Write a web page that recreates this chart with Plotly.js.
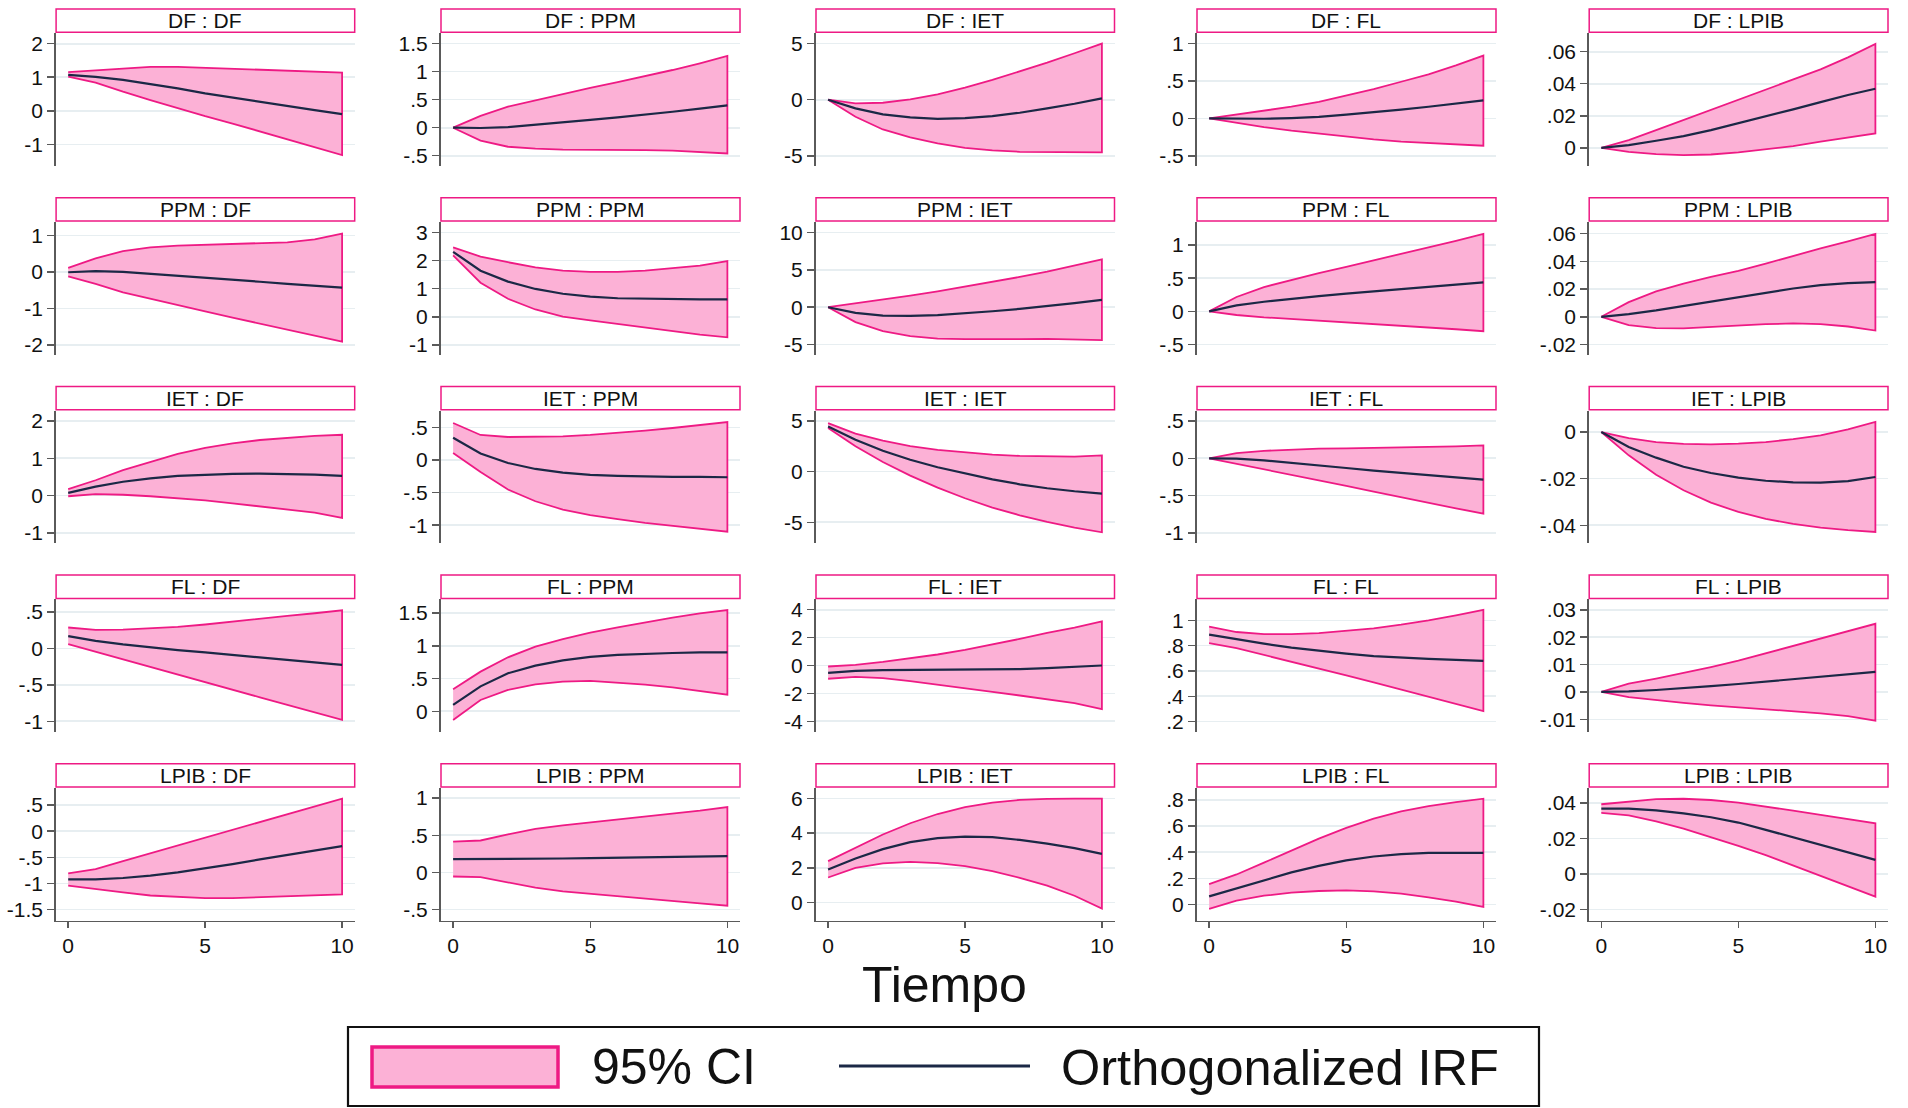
<!DOCTYPE html>
<html><head><meta charset="utf-8">
<script src="https://cdn.plot.ly/plotly-3.0.1.min.js"></script>
<style>html,body{margin:0;padding:0;background:#fff}#chart{width:1908px;height:1108px}</style>
</head><body><div id="chart"></div>
<script>
// ---------------- DATA ----------------
const steps = [0,1,2,3,4,5,6,7,8,9,10];
const impulses = ['DF','PPM','IET','FL','LPIB'];
const responses = ['DF','PPM','IET','FL','LPIB'];
const legendLabels = ['95% CI', 'Orthogonalized IRF'];
const xTitle = 'Tiempo';
const xTicks = [0,5,10];

// impulse DF
const lo_DF_DF = [1.02,0.84,0.57,0.32,0.07,-0.16,-0.38,-0.61,-0.84,-1.08,-1.32];
const irf_DF_DF = [1.07,1.01,0.92,0.80,0.67,0.52,0.39,0.26,0.14,0.02,-0.10];
const hi_DF_DF = [1.15,1.21,1.27,1.31,1.31,1.28,1.25,1.22,1.19,1.17,1.14];
const lo_DF_PPM = [0,-0.23,-0.34,-0.375,-0.39,-0.40,-0.40,-0.40,-0.41,-0.43,-0.46];
const irf_DF_PPM = [0,-0.005,0.01,0.05,0.09,0.14,0.185,0.23,0.285,0.34,0.40];
const hi_DF_PPM = [0,0.21,0.375,0.49,0.60,0.71,0.815,0.92,1.03,1.15,1.28];
const lo_DF_IET = [0,-1.52,-2.65,-3.36,-3.9,-4.29,-4.52,-4.64,-4.70,-4.70,-4.70];
const irf_DF_IET = [0,-0.77,-1.31,-1.58,-1.70,-1.64,-1.46,-1.16,-0.77,-0.36,0.12];
const hi_DF_IET = [0,-0.33,-0.27,0.03,0.48,1.07,1.76,2.5,3.3,4.14,5.0];
const lo_DF_FL = [0,-0.06,-0.116,-0.165,-0.21,-0.245,-0.28,-0.31,-0.33,-0.35,-0.366];
const irf_DF_FL = [0,-0.004,-0.005,0.004,0.02,0.05,0.08,0.116,0.156,0.196,0.24];
const hi_DF_FL = [0,0.05,0.098,0.156,0.22,0.30,0.39,0.49,0.59,0.71,0.84];
const lo_DF_LPIB = [0,-0.0025,-0.004,-0.0046,-0.0042,-0.0029,-0.001,0.001,0.0038,0.0065,0.009];
const irf_DF_LPIB = [0,0.0017,0.0044,0.0073,0.011,0.0152,0.0194,0.024,0.0285,0.033,0.0369];
const hi_DF_LPIB = [0,0.0048,0.011,0.0173,0.0235,0.0298,0.036,0.0423,0.049,0.0565,0.0648];

// impulse PPM
const lo_PPM_DF = [-0.12,-0.33,-0.56,-0.74,-0.91,-1.08,-1.25,-1.42,-1.58,-1.75,-1.91];
const irf_PPM_DF = [-0.01,0.02,0,-0.05,-0.10,-0.16,-0.22,-0.27,-0.33,-0.37,-0.43];
const hi_PPM_DF = [0.11,0.37,0.57,0.67,0.72,0.74,0.75,0.77,0.81,0.89,1.05];
const lo_PPM_PPM = [2.18,1.21,0.64,0.26,0.01,-0.13,-0.27,-0.39,-0.51,-0.63,-0.73];
const irf_PPM_PPM = [2.31,1.64,1.25,0.99,0.82,0.72,0.66,0.64,0.63,0.62,0.62];
const hi_PPM_PPM = [2.47,2.14,1.94,1.76,1.64,1.60,1.60,1.64,1.73,1.82,1.98];
const lo_PPM_IET = [0,-2.0,-3.21,-3.88,-4.2,-4.29,-4.33,-4.29,-4.24,-4.29,-4.42];
const irf_PPM_IET = [0,-0.76,-1.12,-1.16,-1.07,-0.85,-0.54,-0.22,0.13,0.54,0.98];
const hi_PPM_IET = [0,0.49,1.03,1.56,2.14,2.77,3.39,4.06,4.78,5.58,6.43];
const lo_PPM_FL = [0,-0.055,-0.09,-0.12,-0.145,-0.17,-0.195,-0.22,-0.245,-0.27,-0.30];
const irf_PPM_FL = [0,0.09,0.145,0.19,0.23,0.266,0.30,0.336,0.37,0.40,0.436];
const hi_PPM_FL = [0,0.216,0.366,0.476,0.576,0.67,0.767,0.862,0.962,1.063,1.168];
const lo_PPM_LPIB = [0,-0.006,-0.0082,-0.0084,-0.0077,-0.0065,-0.0053,-0.0048,-0.0053,-0.007,-0.0099];
const irf_PPM_LPIB = [0,0.0019,0.0046,0.0077,0.011,0.0144,0.0175,0.0204,0.0228,0.0243,0.025];
const hi_PPM_LPIB = [0,0.0106,0.0183,0.024,0.0288,0.0332,0.0384,0.044,0.0493,0.0545,0.0598];

// impulse IET
const lo_IET_DF = [-0.02,0.04,0.02,-0.02,-0.07,-0.13,-0.21,-0.29,-0.37,-0.46,-0.60];
const irf_IET_DF = [0.07,0.24,0.37,0.46,0.53,0.56,0.58,0.59,0.58,0.56,0.53];
const hi_IET_DF = [0.17,0.41,0.68,0.91,1.12,1.28,1.40,1.49,1.55,1.60,1.63];
const lo_IET_PPM = [0.107,-0.184,-0.454,-0.633,-0.76,-0.847,-0.908,-0.964,-1.01,-1.056,-1.10];
const irf_IET_PPM = [0.34,0.10,-0.046,-0.138,-0.194,-0.23,-0.245,-0.255,-0.26,-0.26,-0.265];
const hi_IET_PPM = [0.566,0.383,0.352,0.352,0.362,0.383,0.413,0.449,0.49,0.53,0.58];
const lo_IET_IET = [4.31,2.5,0.95,-0.39,-1.58,-2.63,-3.55,-4.31,-4.97,-5.53,-5.99];
const irf_IET_IET = [4.47,3.16,2.07,1.18,0.43,-0.2,-0.76,-1.25,-1.64,-1.94,-2.17];
const hi_IET_IET = [4.8,3.75,3.06,2.53,2.14,1.88,1.68,1.55,1.48,1.48,1.61];
const lo_IET_FL = [0,-0.07,-0.147,-0.219,-0.295,-0.37,-0.446,-0.522,-0.598,-0.67,-0.741];
const irf_IET_FL = [0,-0.004,-0.027,-0.058,-0.094,-0.13,-0.165,-0.196,-0.228,-0.254,-0.286];
const hi_IET_FL = [0,0.07,0.10,0.12,0.13,0.134,0.138,0.143,0.152,0.16,0.174];
const lo_IET_LPIB = [0,-0.01,-0.0183,-0.025,-0.0303,-0.0343,-0.0373,-0.0394,-0.041,-0.0421,-0.0429];
const irf_IET_LPIB = [0,-0.0064,-0.011,-0.0149,-0.0176,-0.0196,-0.0209,-0.0216,-0.0217,-0.0211,-0.0193];
const hi_IET_LPIB = [0,-0.0026,-0.0043,-0.0051,-0.0053,-0.005,-0.0043,-0.0031,-0.0014,0.0011,0.0043];

// impulse FL
const lo_FL_DF = [0.059,-0.041,-0.146,-0.251,-0.356,-0.461,-0.566,-0.671,-0.776,-0.881,-0.98];
const irf_FL_DF = [0.169,0.105,0.055,0.014,-0.023,-0.055,-0.087,-0.123,-0.155,-0.187,-0.224];
const hi_FL_DF = [0.288,0.256,0.26,0.274,0.297,0.329,0.365,0.406,0.447,0.484,0.525];
const lo_FL_PPM = [-0.132,0.173,0.325,0.41,0.452,0.463,0.44,0.407,0.366,0.315,0.254];
const irf_FL_PPM = [0.097,0.38,0.58,0.696,0.778,0.829,0.86,0.88,0.89,0.9,0.9];
const hi_FL_PPM = [0.335,0.605,0.824,0.986,1.103,1.2,1.28,1.357,1.43,1.495,1.545];
const lo_FL_IET = [-0.95,-0.81,-0.91,-1.12,-1.36,-1.62,-1.89,-2.15,-2.41,-2.70,-3.13];
const irf_FL_IET = [-0.53,-0.38,-0.33,-0.31,-0.31,-0.31,-0.29,-0.26,-0.19,-0.12,0.0];
const hi_FL_IET = [-0.07,0.05,0.26,0.5,0.79,1.12,1.5,1.91,2.34,2.72,3.17];
const lo_FL_FL = [0.821,0.78,0.73,0.676,0.62,0.566,0.51,0.453,0.397,0.34,0.282];
const irf_FL_FL = [0.887,0.85,0.816,0.784,0.758,0.737,0.718,0.705,0.695,0.687,0.679];
const hi_FL_FL = [0.95,0.908,0.892,0.892,0.9,0.916,0.937,0.966,1.0,1.04,1.084];
const lo_FL_LPIB = [0,-0.0019,-0.003,-0.004,-0.0049,-0.0056,-0.0063,-0.0071,-0.0078,-0.0088,-0.0105];
const irf_FL_LPIB = [0,0.0002,0.0007,0.0013,0.0021,0.0029,0.0038,0.0047,0.0056,0.0064,0.0073];
const hi_FL_LPIB = [0,0.003,0.0049,0.0069,0.0091,0.0114,0.0141,0.0168,0.0195,0.0222,0.0249];

// impulse LPIB
const lo_LPIB_DF = [-1.04,-1.10,-1.17,-1.23,-1.26,-1.28,-1.28,-1.26,-1.24,-1.23,-1.21];
const irf_LPIB_DF = [-0.92,-0.92,-0.895,-0.851,-0.787,-0.711,-0.629,-0.54,-0.457,-0.375,-0.286];
const hi_LPIB_DF = [-0.806,-0.724,-0.571,-0.422,-0.273,-0.124,0.025,0.175,0.324,0.473,0.622];
const lo_LPIB_PPM = [-0.054,-0.063,-0.138,-0.205,-0.254,-0.29,-0.321,-0.353,-0.384,-0.415,-0.446];
const irf_LPIB_PPM = [0.179,0.179,0.183,0.183,0.188,0.192,0.196,0.2,0.205,0.21,0.219];
const hi_LPIB_PPM = [0.415,0.43,0.513,0.585,0.634,0.674,0.71,0.746,0.786,0.83,0.88];
const lo_LPIB_IET = [1.45,2.0,2.26,2.35,2.28,2.1,1.82,1.43,0.98,0.4,-0.34];
const irf_LPIB_IET = [1.91,2.54,3.08,3.48,3.71,3.8,3.77,3.61,3.4,3.14,2.81];
const hi_LPIB_IET = [2.39,3.15,3.92,4.57,5.1,5.49,5.76,5.91,5.97,5.98,5.98];
const lo_LPIB_FL = [-0.033,0.03,0.068,0.091,0.104,0.109,0.101,0.084,0.056,0.023,-0.018];
const irf_LPIB_FL = [0.063,0.124,0.187,0.246,0.296,0.337,0.367,0.385,0.395,0.397,0.395];
const hi_LPIB_FL = [0.157,0.23,0.32,0.413,0.504,0.585,0.656,0.711,0.752,0.782,0.808];
const lo_LPIB_LPIB = [0.0344,0.0331,0.0297,0.0256,0.0209,0.0159,0.0107,0.005,-0.0009,-0.0069,-0.0127];
const irf_LPIB_LPIB = [0.0368,0.0368,0.0359,0.0342,0.032,0.029,0.0249,0.0206,0.0164,0.0121,0.008];
const hi_LPIB_LPIB = [0.0393,0.0409,0.0422,0.0424,0.0417,0.0402,0.0381,0.0357,0.0333,0.0308,0.0286];

// y tick values per panel (row = impulse, col = response)
const yt_DF = [[-1,0,1,2],[-0.5,0,0.5,1,1.5],[-5,0,5],[-0.5,0,0.5,1],[0,0.02,0.04,0.06]];
const yt_PPM = [[-2,-1,0,1],[-1,0,1,2,3],[-5,0,5,10],[-0.5,0,0.5,1],[-0.02,0,0.02,0.04,0.06]];
const yt_IET = [[-1,0,1,2],[-1,-0.5,0,0.5],[-5,0,5],[-1,-0.5,0,0.5],[-0.04,-0.02,0]];
const yt_FL = [[-1,-0.5,0,0.5],[0,0.5,1,1.5],[-4,-2,0,2,4],[0.2,0.4,0.6,0.8,1],[-0.01,0,0.01,0.02,0.03]];
const yt_LPIB = [[-1.5,-1,-0.5,0,0.5],[-0.5,0,0.5,1],[0,2,4,6],[0,0.2,0.4,0.6,0.8],[-0.02,0,0.02,0.04]];

// ---------------- TABLES BUILT FROM DATA ----------------
const series = [
  [[lo_DF_DF,irf_DF_DF,hi_DF_DF],[lo_DF_PPM,irf_DF_PPM,hi_DF_PPM],[lo_DF_IET,irf_DF_IET,hi_DF_IET],[lo_DF_FL,irf_DF_FL,hi_DF_FL],[lo_DF_LPIB,irf_DF_LPIB,hi_DF_LPIB]],
  [[lo_PPM_DF,irf_PPM_DF,hi_PPM_DF],[lo_PPM_PPM,irf_PPM_PPM,hi_PPM_PPM],[lo_PPM_IET,irf_PPM_IET,hi_PPM_IET],[lo_PPM_FL,irf_PPM_FL,hi_PPM_FL],[lo_PPM_LPIB,irf_PPM_LPIB,hi_PPM_LPIB]],
  [[lo_IET_DF,irf_IET_DF,hi_IET_DF],[lo_IET_PPM,irf_IET_PPM,hi_IET_PPM],[lo_IET_IET,irf_IET_IET,hi_IET_IET],[lo_IET_FL,irf_IET_FL,hi_IET_FL],[lo_IET_LPIB,irf_IET_LPIB,hi_IET_LPIB]],
  [[lo_FL_DF,irf_FL_DF,hi_FL_DF],[lo_FL_PPM,irf_FL_PPM,hi_FL_PPM],[lo_FL_IET,irf_FL_IET,hi_FL_IET],[lo_FL_FL,irf_FL_FL,hi_FL_FL],[lo_FL_LPIB,irf_FL_LPIB,hi_FL_LPIB]],
  [[lo_LPIB_DF,irf_LPIB_DF,hi_LPIB_DF],[lo_LPIB_PPM,irf_LPIB_PPM,hi_LPIB_PPM],[lo_LPIB_IET,irf_LPIB_IET,hi_LPIB_IET],[lo_LPIB_FL,irf_LPIB_FL,hi_LPIB_FL],[lo_LPIB_LPIB,irf_LPIB_LPIB,hi_LPIB_LPIB]]
];
const yTicks = [yt_DF, yt_PPM, yt_IET, yt_FL, yt_LPIB];

// ---------------- LAYOUT / STYLE ----------------
const W = 1908, H = 1108;
const FONT = 'Liberation Sans, Arial, Helvetica, sans-serif';
const PINK_LINE = '#ee1a84';
const PINK_FILL = '#fcb1d6';
const NAVY = '#1b2846';
const AXIS = '#5a5a5a';
const GRID = '#e7eef1';

const yRanges = [
  [[-1.64,2.31],[-0.68,1.685],[-5.89,5.92],[-0.634,1.138],[-0.01125,0.0715]],
  [[-2.26,1.365],[-1.34,3.37],[-6.34,11.43],[-0.65,1.346],[-0.0272,0.0684]],
  [[-1.28,2.277],[-1.276,0.755],[-7.07,6.02],[-1.138,0.638],[-0.0477,0.00914]],
  [[-1.146,0.674],[-0.315,1.708],[-4.76,4.74],[0.118,1.166],[-0.0146,0.0338]],
  [[-1.71,0.824],[-0.647,1.134],[-1.03,6.59],[-0.122,0.889],[-0.0262,0.0484]]
];
const colPx = [[55.6,354.7],[440.5,740],[815.5,1114.5],[1196.5,1496],[1588.7,1888]];
const rowTop0 = 33.3, rowPitch = 188.7, plotH = 132.5;

function fmt(v){
  let s = String(+v.toFixed(6));
  s = s.replace(/^(-?)0\./, '$1.');
  return s;
}
const px2x = p => p / W;
const px2y = p => 1 - p / H;

const traces = [];
const layout = {
  width: W, height: H,
  margin: {l:0, r:0, t:0, b:0},
  paper_bgcolor: '#ffffff', plot_bgcolor: '#ffffff',
  showlegend: false,
  font: {family: FONT, color: '#111'},
  shapes: [], annotations: []
};

for (let r = 0; r < 5; r++) {
  for (let c = 0; c < 5; c++) {
    const n = r * 5 + c + 1;
    const xa = 'x' + (n === 1 ? '' : n), ya = 'y' + (n === 1 ? '' : n);
    const xkey = 'xaxis' + (n === 1 ? '' : n), ykey = 'yaxis' + (n === 1 ? '' : n);
    const [lo, irf, hi] = series[r][c];
    const top = rowTop0 + rowPitch * r, bot = top + plotH;
    const [xl, xr] = colPx[c];

    // CI band as closed polygon
    traces.push({
      type: 'scatter', mode: 'lines', xaxis: xa, yaxis: ya,
      x: steps.concat(steps.slice().reverse()),
      y: hi.concat(lo.slice().reverse()),
      fill: 'toself', fillcolor: PINK_FILL,
      line: {color: PINK_LINE, width: 1.8}, hoverinfo: 'skip', name: legendLabels[0]
    });
    traces.push({
      type: 'scatter', mode: 'lines', xaxis: xa, yaxis: ya,
      x: steps, y: irf,
      line: {color: NAVY, width: 2.2}, hoverinfo: 'skip', name: legendLabels[1]
    });

    const bottomRow = (r === 4);
    layout[xkey] = {
      domain: [px2x(xl), px2x(xr)], anchor: ya,
      range: [-0.46, 10.46], fixedrange: true,
      showgrid: false, zeroline: false,
      showline: bottomRow, linecolor: AXIS, linewidth: 1.5,
      ticks: bottomRow ? 'outside' : '', ticklen: 6, tickwidth: 1.5, tickcolor: AXIS,
      tickvals: xTicks, ticktext: xTicks.map(String),
      showticklabels: bottomRow,
      tickfont: {family: FONT, size: 21, color: '#111'}
    };
    const tv = yTicks[r][c];
    layout[ykey] = {
      domain: [px2y(bot), px2y(top)], anchor: xa,
      range: yRanges[r][c], fixedrange: true,
      showline: true, linecolor: AXIS, linewidth: 1.5,
      ticks: 'outside', ticklen: 7, tickwidth: 1.5, tickcolor: AXIS,
      tickvals: tv, ticktext: tv.map(fmt),
      showgrid: true, gridcolor: GRID, gridwidth: 1.6,
      zeroline: false,
      tickfont: {family: FONT, size: 21, color: '#111'}
    };

    // panel title box
    const by0 = top - 24.3, by1 = top - 1;
    layout.shapes.push({
      type: 'rect', xref: 'paper', yref: 'paper',
      x0: px2x(xl + 0.5), x1: px2x(xr), y0: px2y(by1), y1: px2y(by0),
      line: {color: PINK_LINE, width: 1.5}, fillcolor: '#ffffff', layer: 'above'
    });
    layout.annotations.push({
      xref: 'paper', yref: 'paper', x: px2x((xl + xr) / 2), y: px2y((by0 + by1) / 2),
      xanchor: 'center', yanchor: 'middle', showarrow: false,
      text: impulses[r] + ' : ' + responses[c],
      font: {family: FONT, size: 21, color: '#111'}
    });
  }
}

// x title
layout.annotations.push({
  xref: 'paper', yref: 'paper', x: px2x(944), y: px2y(985),
  xanchor: 'center', yanchor: 'middle', showarrow: false,
  text: xTitle, font: {family: FONT, size: 50, color: '#111'}
});

// legend (drawn)
layout.shapes.push({
  type: 'rect', xref: 'paper', yref: 'paper',
  x0: px2x(348), x1: px2x(1539), y0: px2y(1106), y1: px2y(1027),
  line: {color: '#111', width: 2.2}, fillcolor: '#ffffff', layer: 'below'
});
layout.shapes.push({
  type: 'rect', xref: 'paper', yref: 'paper',
  x0: px2x(372), x1: px2x(558), y0: px2y(1087), y1: px2y(1047),
  line: {color: PINK_LINE, width: 3.5}, fillcolor: PINK_FILL, layer: 'above'
});
layout.shapes.push({
  type: 'line', xref: 'paper', yref: 'paper',
  x0: px2x(839), x1: px2x(1030), y0: px2y(1066), y1: px2y(1066),
  line: {color: NAVY, width: 3}, layer: 'above'
});
layout.annotations.push({
  xref: 'paper', yref: 'paper', x: px2x(590), y: px2y(1067),
  xanchor: 'left', yanchor: 'middle', showarrow: false,
  text: legendLabels[0], font: {family: FONT, size: 50, color: '#111'}
});
layout.annotations.push({
  xref: 'paper', yref: 'paper', x: px2x(1059), y: px2y(1067),
  xanchor: 'left', yanchor: 'middle', showarrow: false,
  text: legendLabels[1], font: {family: FONT, size: 50.5, color: '#111'}
});

Plotly.newPlot('chart', traces, layout, {staticPlot: true, displayModeBar: false});
</script>
</body></html>
